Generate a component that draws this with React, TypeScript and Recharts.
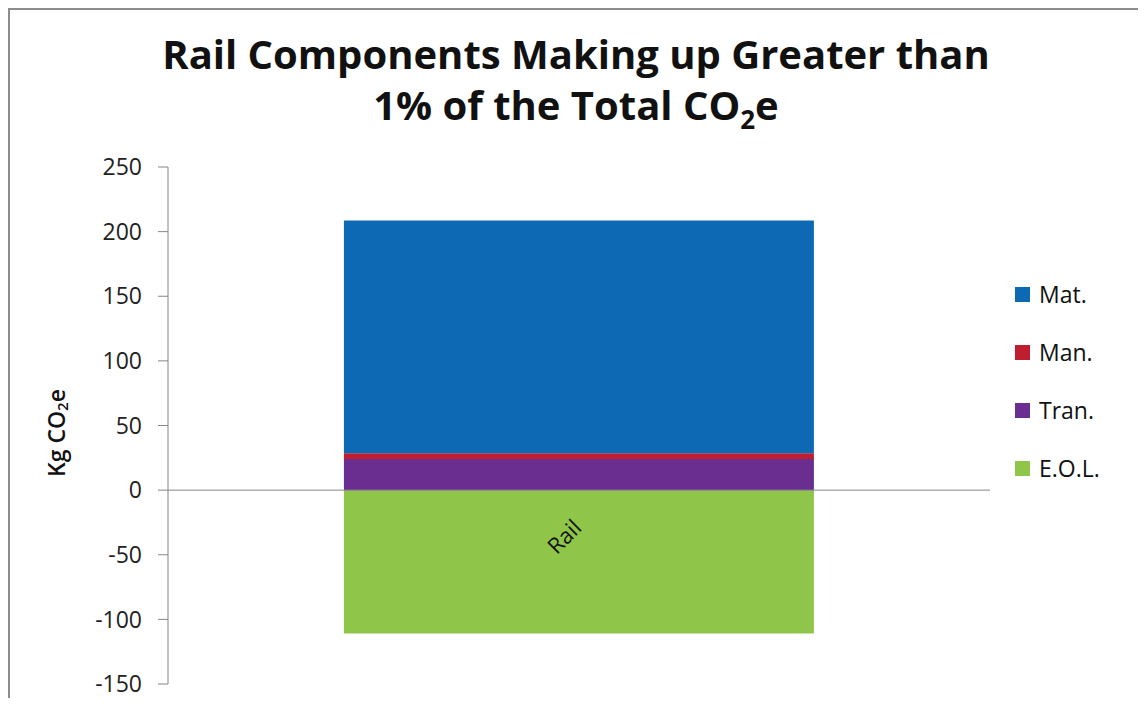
import { BarChart, Bar, XAxis, YAxis, ReferenceLine, Legend, LabelList } from "recharts";

const categories = ["Rail"];
const matValues = [180];
const manValues = [4.6];
const tranValues = [24];
const eolValues = [-111];
const yTicks = [-150, -100, -50, 0, 50, 100, 150, 200, 250];
const legendOrder = ["Mat.", "Man.", "Tran.", "E.O.L."];

const data = categories.map((name, i) => ({
  name,
  mat: matValues[i],
  man: manValues[i],
  tran: tranValues[i],
  eol: eolValues[i],
}));

const FONT = "'Open Sans', sans-serif";
const AXIS = "#868686";

function RailLabel(props: any) {
  const { x, y, width, height, value } = props;
  const top = Math.min(y, y + height);
  const cx = x + width / 2;
  const ty = top + 39;
  return (
    <text
      x={cx + 4}
      y={ty}
      transform={`rotate(-45 ${cx + 4} ${ty})`}
      textAnchor="end"
      fontSize={22}
      fontFamily={FONT}
      fill="#111"
    >
      {value}
    </text>
  );
}

function YLabel() {
  return (
    <text
      x={46}
      y={423}
      transform="rotate(-90 46 423)"
      textAnchor="middle"
      dominantBaseline="central"
      fontSize={23}
      fontWeight={600}
      fontFamily={FONT}
      fill="#111"
    >
      Kg CO<tspan fontSize={15} dy={6}>2</tspan>
      <tspan dy={-6}>e</tspan>
    </text>
  );
}

function LegendBox({ payload }: any) {
  const items = [...(payload || [])].sort(
    (a: any, b: any) => legendOrder.indexOf(a.value) - legendOrder.indexOf(b.value)
  );
  return (
    <div style={{ fontFamily: FONT, fontSize: 23, color: "#111" }}>
      {items.map((it: any) => (
        <div key={it.value} style={{ height: 58, display: "flex", alignItems: "center" }}>
          <span style={{ width: 15, height: 15, background: it.color, display: "inline-block", marginRight: 9 }} />
          <span>{it.value}</span>
        </div>
      ))}
    </div>
  );
}

export default function App() {
  return (
    <div
      style={{
        position: "relative",
        width: 1136,
        height: 690,
        boxSizing: "border-box",
        borderTop: "2px solid #8c8c8c",
        borderLeft: "2px solid #8c8c8c",
        borderRight: "2px solid #8c8c8c",
        background: "#fff",
      }}
    >
      <div
        style={{
          position: "absolute",
          top: 18,
          left: 0,
          width: "100%",
          textAlign: "center",
          fontFamily: FONT,
          fontWeight: 700,
          fontSize: 40,
          lineHeight: "51px",
          color: "#111",
          zIndex: 2,
        }}
      >
        Rail Components Making up Greater than
        <br />
        1% of the Total CO<sub style={{ fontSize: 26, lineHeight: 0 }}>2</sub>e
      </div>
      <BarChart
        width={1132}
        height={688}
        data={data}
        stackOffset="sign"
        barCategoryGap="21.4%"
        margin={{ top: 157, right: 152, bottom: 14, left: 0 }}
      >
        <XAxis dataKey="name" hide />
        <YAxis
          width={158}
          domain={[-150, 250]}
          ticks={yTicks}
          interval={0}
          tickSize={10}
          tickMargin={16}
          axisLine={{ stroke: AXIS }}
          tickLine={{ stroke: AXIS }}
          tick={{ fill: "#222", fontSize: 23, fontFamily: FONT }}
          label={<YLabel />}
        />
        <Legend
          layout="vertical"
          align="center"
          verticalAlign="middle"
          wrapperStyle={{ left: 1005, top: 255, width: 125 }}
          content={<LegendBox />}
        />
        <Bar dataKey="eol" name="E.O.L." stackId="a" fill="#8fc64a" isAnimationActive={false}>
          <LabelList dataKey="name" content={<RailLabel />} />
        </Bar>
        <Bar dataKey="tran" name="Tran." stackId="a" fill="#6a2e91" isAnimationActive={false} />
        <Bar dataKey="man" name="Man." stackId="a" fill="#be1e2d" isAnimationActive={false} />
        <Bar dataKey="mat" name="Mat." stackId="a" fill="#0d69b4" isAnimationActive={false} />
        <ReferenceLine y={0} stroke={AXIS} />
      </BarChart>
    </div>
  );
}
